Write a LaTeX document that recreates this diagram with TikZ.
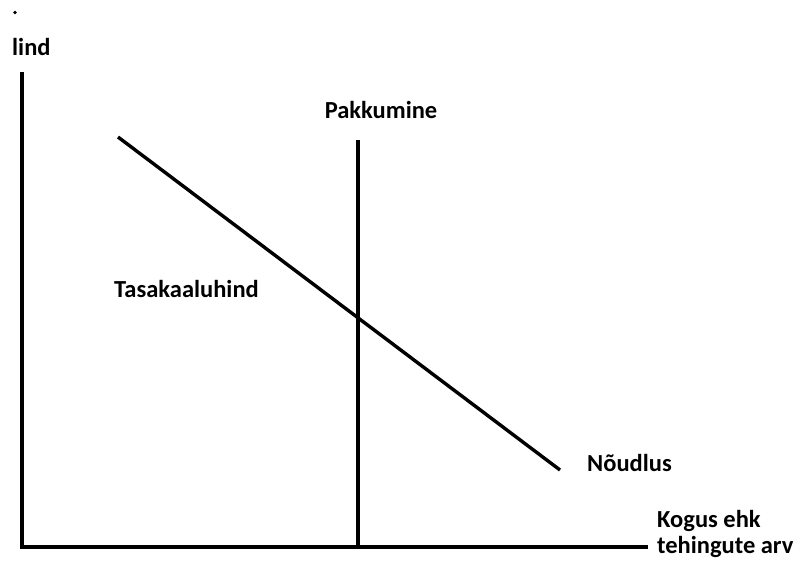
\documentclass[tikz,border=0pt]{standalone}
\usepackage{fontspec}
\setmainfont{Carlito}
\usepackage{tikz}
\tikzset{
  lbl/.style={font=\fontsize{24.5}{25.5}\selectfont\bfseries, inner sep=0pt},
  axisline/.style={line width=3.4pt},
  curveline/.style={line width=3.4pt}
}
\begin{document}
\begin{tikzpicture}[x=1pt,y=-1pt]
\path[use as bounding box] (0,0) rectangle (798,560);
\fill (15,12.5) circle (1.8);
\coordinate (top) at (22,72);
\coordinate (origin) at (22,547);
\coordinate (xend) at (648,547);
\draw[axisline] (top) -- (origin) -- (xend);
\node[lbl, anchor=base west] (price) at (12,55) {lind};
\node[lbl, anchor=base] (supplylbl) at (381,118) {Pakkumine};
\coordinate (stop) at (358,140);
\coordinate (sbot) at (358,547);
\draw[curveline] (stop) -- (sbot);
\coordinate (dtop) at (118,137);
\coordinate (dbot) at (560,470);
\draw[curveline] (dtop) -- (dbot);
\node[lbl, anchor=base west] (eq) at (114,297) {Tasakaaluhind};
\node[lbl, anchor=base west] (demand) at (587,471) {Nõudlus};
\node[lbl, anchor=base west, align=left] (qty) at (657,553) {Kogus ehk\\tehingute arv};
\end{tikzpicture}
\end{document}
